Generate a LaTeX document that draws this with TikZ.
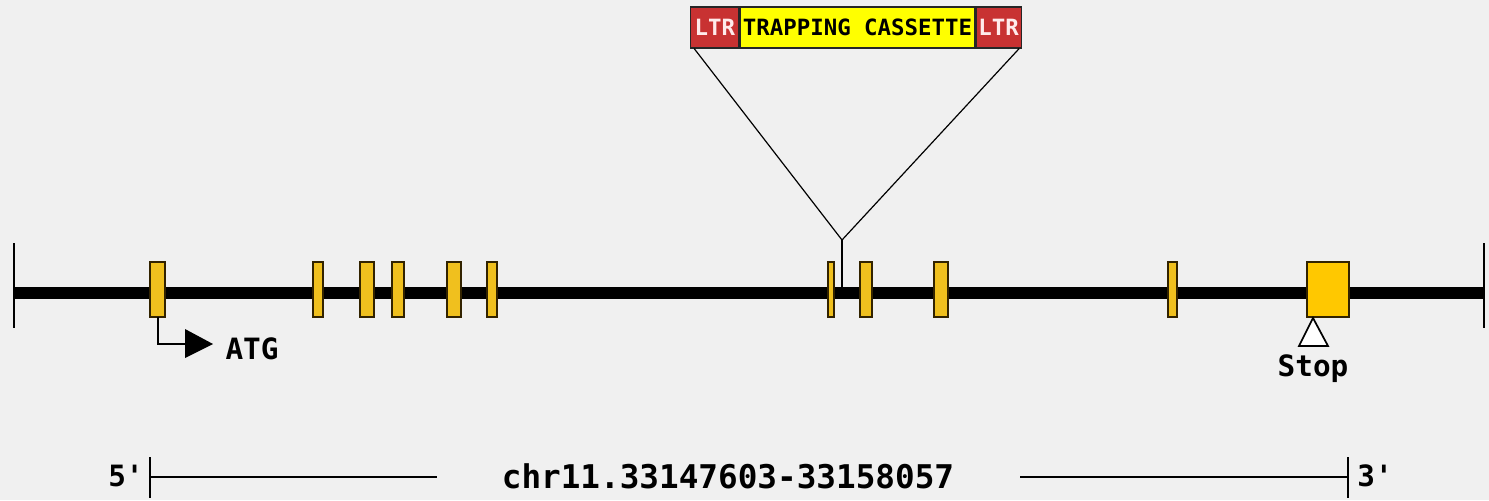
\documentclass[tikz,border=0pt]{standalone}
\usepackage{fontspec}
\newfontfamily\genefont{DejaVu Sans Mono}
\usetikzlibrary{positioning}

\definecolor{bggray}{RGB}{240,240,240}
\definecolor{exongold}{RGB}{240,192,30}
\definecolor{stopgold}{RGB}{255,200,0}
\definecolor{ltrred}{RGB}{200,50,50}
\definecolor{casyellow}{RGB}{255,255,0}

\begin{document}
\begin{tikzpicture}[x=0.75pt,y=0.75pt,yscale=-1,xscale=1,
  exon/.style={draw={rgb,255:red,50;green,35;blue,0}, line width=1.4pt, fill=exongold},
  bigtext/.style={font=\genefont\bfseries\fontsize{22}{22}\selectfont, inner sep=0pt},
  casbox/.style={draw=black!85, line width=0.9pt, minimum height=30.75pt, inner sep=0pt,
    font=\genefont\bfseries\fontsize{16.8}{16.8}\selectfont},
  thin/.style={line width=1.2pt}]
\useasboundingbox (0,0) rectangle (1489,500);
\fill[bggray] (0,0) rectangle (1489,500);

%Chromosome line
\draw [line width=9pt] (14,292.5) -- (1484,292.5) ;
\draw [thin] (14,243) -- (14,328) ;
\draw [thin] (1484,243) -- (1484,328) ;

%Exons
\foreach \xa/\xb in {150/165, 313/323, 360/374, 392/404, 447/461, 487/497,
                     828/834, 860/872, 934/948, 1168/1177}
  \draw [exon] (\xa,262) rectangle (\xb,317) ;
\draw [exon, fill=stopgold] (1307,262) rectangle (1349,317) ;

%Trapping cassette
\node [casbox, fill=casyellow, minimum width=176.25pt] (cas) at (857.5,27.5) {TRAPPING CASSETTE};
\node [casbox, fill=ltrred, text=red!8, minimum width=36pt, left=0pt of cas] (ltrL) {LTR};
\node [casbox, fill=ltrred, text=red!8, minimum width=33.75pt, right=0pt of cas] (ltrR) {LTR};

%Insertion site
\coordinate (ins) at (842,240) ;
\coordinate (insend) at (842,290) ;
\draw [line width=0.9pt] ([xshift=3pt]ltrL.south west) -- (ins) -- ([xshift=-2pt]ltrR.south east) ;
\draw [line width=0.9pt] (ins) -- (insend) ;

%ATG
\draw [line width=1.3pt] (158,317) -- (158,344) -- (186,344) ;
\fill (185,329) -- (213,344) -- (185,358) -- cycle ;
% Text Node
\node [bigtext] (atg) at (252,349) {ATG};

%Stop
\draw [line width=1.3pt, fill=white] (1313,318) -- (1328,346) -- (1299,346) -- cycle ;
% Text Node
\node [bigtext] (stop) at (1313,369) {Stop};

%Scale bar
\node [bigtext] (five) at (126,476) {5'};
\node [bigtext] (three) at (1375,476) {3'};
\node [bigtext, font=\genefont\bfseries\fontsize{24.5}{24.5}\selectfont] (chr) at (728,476) {chr11.33147603-33158057};
\coordinate (tickL) at (150,477) ;
\coordinate (tickR) at (1348,477) ;
\draw [thin] (150,457) -- (150,498) ;
\draw [thin] (1348,457) -- (1348,498) ;
\draw [line width=1.1pt] (tickL) -- (437,477) ;
\draw [line width=1.1pt] (1020,477) -- (tickR) ;

\end{tikzpicture}
\end{document}
